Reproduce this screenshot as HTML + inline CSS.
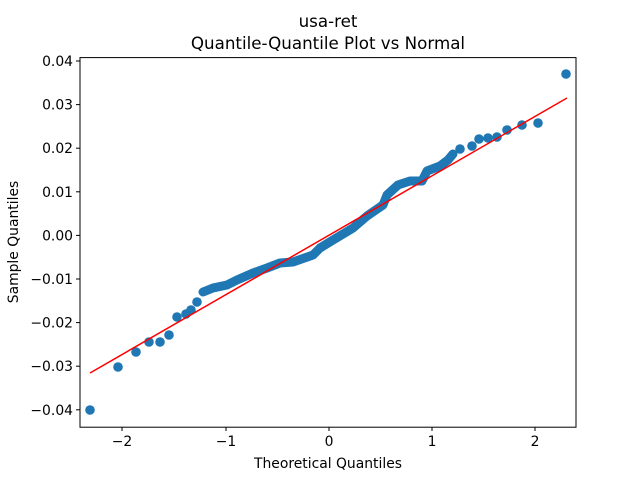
<!DOCTYPE html>
<html><head><meta charset="utf-8"><style>body{margin:0;background:#fff}</style></head>
<body>
<svg width="640" height="480" xmlns="http://www.w3.org/2000/svg" font-family="DejaVu Sans, Liberation Sans, sans-serif">
<rect width="640" height="480" fill="#fff"/>
<g fill="#1f77b4">
<circle cx="90" cy="410" r="4.8"/><circle cx="118" cy="367" r="4.8"/><circle cx="136" cy="352" r="4.8"/>
<circle cx="149" cy="342" r="4.8"/><circle cx="160" cy="342" r="4.8"/><circle cx="169" cy="335" r="4.8"/>
<circle cx="177" cy="317" r="4.8"/><circle cx="186" cy="314" r="4.8"/><circle cx="191" cy="310" r="4.8"/>
<circle cx="197" cy="302" r="4.8"/>
<circle cx="460" cy="149" r="4.8"/><circle cx="472" cy="146" r="4.8"/><circle cx="479" cy="139" r="4.8"/>
<circle cx="488" cy="138" r="4.8"/><circle cx="497" cy="137" r="4.8"/><circle cx="507" cy="130" r="4.8"/>
<circle cx="522" cy="125" r="4.8"/><circle cx="538" cy="123" r="4.8"/><circle cx="566" cy="74" r="4.8"/>
</g>
<polyline fill="none" stroke="#1f77b4" stroke-width="9" stroke-linecap="round" stroke-linejoin="round"
points="203,292 213,288 227,285 237,280 253,273 267,268 280,263 293,262 313,255 320,248 333,240 353,228 367,216 383,205 387,195 398,185 410,181 422,181 427,171 440,166 448,160 453,154"/>
<line x1="90" y1="373" x2="567" y2="98" stroke="#ff0000" stroke-width="1.5"/>
<rect x="80" y="57.6" width="496" height="369.6" fill="none" stroke="#000" stroke-width="1"/>
<g stroke="#000" stroke-width="1">
<line x1="122" y1="427" x2="122" y2="431"/><line x1="226" y1="427" x2="226" y2="431"/>
<line x1="329" y1="427" x2="329" y2="431"/><line x1="432" y1="427" x2="432" y2="431"/>
<line x1="535" y1="427" x2="535" y2="431"/>
<line x1="76" y1="61" x2="80" y2="61"/><line x1="76" y1="104.6" x2="80" y2="104.6"/>
<line x1="76" y1="148.2" x2="80" y2="148.2"/><line x1="76" y1="191.8" x2="80" y2="191.8"/>
<line x1="76" y1="235.4" x2="80" y2="235.4"/><line x1="76" y1="279" x2="80" y2="279"/>
<line x1="76" y1="322.6" x2="80" y2="322.6"/><line x1="76" y1="366.2" x2="80" y2="366.2"/>
<line x1="76" y1="409.8" x2="80" y2="409.8"/>
</g>
<g font-size="13.9" fill="#000" text-anchor="middle">
<text x="122" y="446">−2</text><text x="226" y="446">−1</text><text x="329" y="446">0</text>
<text x="432" y="446">1</text><text x="535" y="446">2</text>
</g>
<g font-size="13.9" fill="#000" text-anchor="end">
<text x="73" y="66">0.04</text><text x="73" y="109.6">0.03</text><text x="73" y="153.2">0.02</text>
<text x="73" y="196.8">0.01</text><text x="73" y="240.4">0.00</text><text x="73" y="284">−0.01</text>
<text x="73" y="327.6">−0.02</text><text x="73" y="371.2">−0.03</text><text x="73" y="414.8">−0.04</text>
</g>
<text x="328" y="468" font-size="13.9" text-anchor="middle">Theoretical Quantiles</text>
<text transform="translate(18,242) rotate(-90)" font-size="13.9" text-anchor="middle">Sample Quantiles</text>
<text x="328" y="27" font-size="16.7" text-anchor="middle">usa-ret</text>
<text x="328" y="49" font-size="16.7" text-anchor="middle">Quantile-Quantile Plot vs Normal</text>
</svg>
</body></html>
